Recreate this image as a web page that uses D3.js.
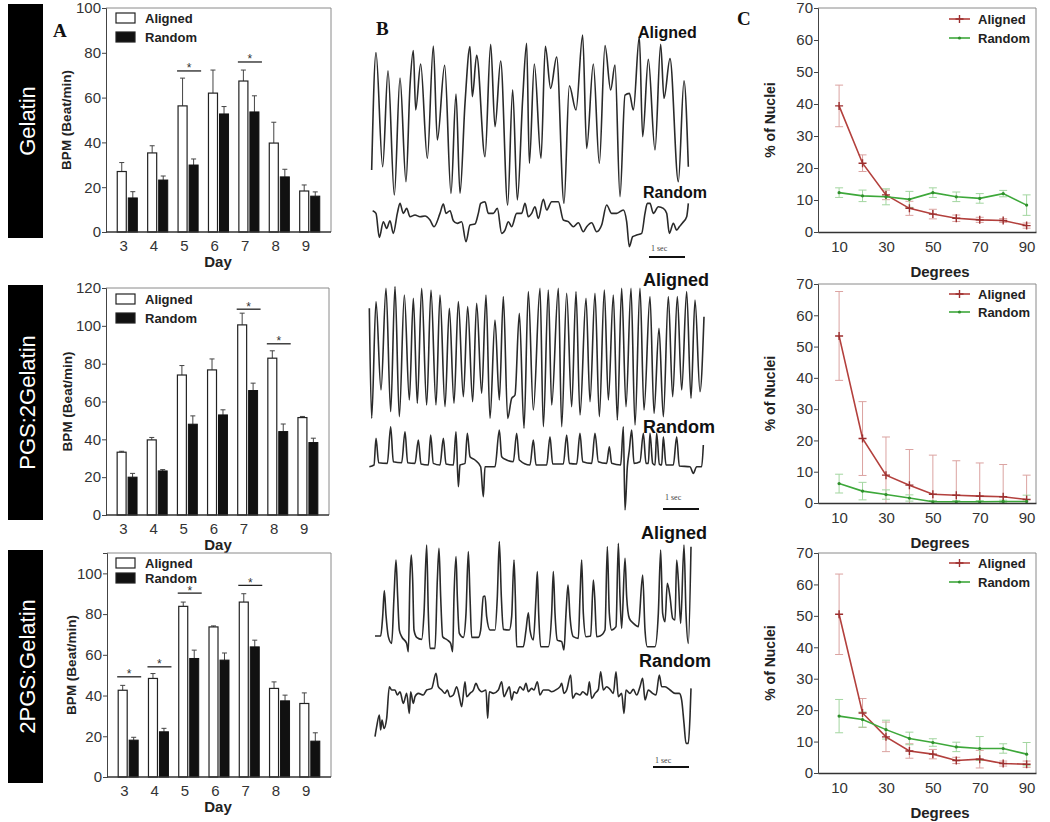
<!DOCTYPE html>
<html><head><meta charset="utf-8">
<script src="https://cdn.jsdelivr.net/npm/d3@7"></script>
<style>body{margin:0;background:#fff}svg{display:block}</style>
</head><body>
<svg id="fig" width="1050" height="822"></svg>
<script>
// ---------- Panel A data (BPM, mean and upper SEM) ----------
const days = [3, 4, 5, 6, 7, 8, 9];
const gelAligned     = [27, 35.3, 56.3, 62, 67.4, 39.7, 18.3];
const gelAlignedErr  = [4, 3.2, 12.4, 10.3, 4.9, 9.3, 2.7];
const gelRandom      = [15.2, 23.2, 29.9, 52.7, 53.6, 24.6, 16];
const gelRandomErr   = [2.8, 1.8, 2.7, 3.3, 7.2, 3.4, 1.9];
const gelSigDays = [5, 7], gelSigLevel = [71.9, 75.9];

const pgs2Aligned    = [33.2, 39.7, 74, 76.7, 100.5, 82.9, 51.5];
const pgs2AlignedErr = [0.5, 1.3, 5, 5.8, 6.2, 3.9, 0.6];
const pgs2Random     = [20, 23.3, 48, 52.9, 65.8, 44.1, 38.3];
const pgs2RandomErr  = [2, 0.7, 4.4, 2.7, 3.9, 4, 2.3];
const pgs2SigDays = [7, 8], pgs2SigLevel = [108.8, 90.5];

const pgsAligned     = [42.6, 48.4, 83.8, 73.7, 85.9, 43.5, 36.1];
const pgsAlignedErr  = [2.4, 2.4, 2.1, 0.5, 4.1, 3.2, 5.2];
const pgsRandom      = [18.1, 22.2, 58.2, 57.4, 63.9, 37.4, 17.6];
const pgsRandomErr   = [1.4, 1.7, 4.1, 3.5, 3.3, 2.8, 4.1];
const pgsSigDays = [3, 4, 5, 7], pgsSigLevel = [49.2, 54.1, 90.3, 94.1];

const sideLabels = ['Gelatin', 'PGS:2Gelatin', '2PGS:Gelatin'];
const seriesNames = ['Aligned', 'Random'];

// ---------- Panel C data (% of nuclei vs degrees) ----------
const degrees = [10, 20, 30, 40, 50, 60, 70, 80, 90];
const cTicks = [10, 30, 50, 70, 90];
const gelNucAligned    = [39.4, 21.5, 11.6, 7.4, 5.6, 4.3, 3.8, 3.6, 2.0];
const gelNucAlignedErr = [6.5, 2.6, 1.5, 2.2, 1.5, 1.0, 0.8, 0.6, 0.8];
const gelNucRandom     = [12.3, 11.3, 11.0, 10.2, 12.3, 11.0, 10.5, 12.0, 8.4];
const gelNucRandomErr  = [1.5, 1.8, 2.5, 2.5, 1.5, 1.5, 1.5, 1.0, 3.2];

const pgs2NucAligned    = [53.4, 20.6, 8.9, 5.7, 2.8, 2.5, 2.2, 2.0, 1.1];
const pgs2NucAlignedErr = [14.2, 11.8, 12.2, 11.4, 12.5, 11.0, 10.6, 10.3, 7.8];
const pgs2NucRandom     = [6.2, 3.8, 2.7, 1.6, 0.4, 0.4, 0.4, 0.5, 0.5];
const pgs2NucRandomErr  = [3.0, 2.8, 1.5, 1.0, 0.4, 0.4, 0.4, 0.4, 2.0];

const pgsNucAligned    = [50.5, 19.1, 11.5, 7.0, 6.0, 4.0, 4.4, 3.0, 2.8];
const pgsNucAlignedErr = [12.8, 4.6, 4.7, 2.3, 1.5, 1.0, 2.8, 0.8, 1.0];
const pgsNucRandom     = [18.1, 17.0, 13.8, 11.0, 9.7, 8.3, 7.8, 7.8, 6.0];
const pgsNucRandomErr  = [5.3, 2.4, 3.0, 2.0, 1.2, 1.5, 3.8, 1.5, 3.7];

// ---------- Panel B data: beating traces, [sample, amplitude a.u.], 108 samples / s ----------
const fs = 108;
const gelTraceAligned = [[35,290],[48,642],[68,300],[84,588],[103,215],[120,566],[138,255],[150,542],[160,648],[167,470],[182,608],[202,325],[220,662],[232,380],[254,604],[273,220],[288,518],[300,220],[315,490],[330,660],[337,510],[350,634],[375,330],[392,667],[405,420],[422,617],[443,185],[458,531],[472,200],[488,503],[500,670],[508,310],[523,608],[543,325],[556,661],[572,535],[590,629],[612,190],[628,543],[648,470],[668,695],[680,355],[700,608],[718,310],[735,663],[752,530],[765,605],[780,210],[795,515],[808,520],[820,470],[838,690],[848,390],[865,622],[885,350],[902,667],[912,505],[930,624],[955,255],[972,558],[985,300]];
const gelTraceRandom = [[38,168],[48,160],[58,88],[70,135],[80,115],[90,138],[100,100],[112,160],[120,190],[130,160],[140,175],[150,150],[165,155],[180,150],[195,152],[210,140],[222,120],[240,160],[250,188],[258,160],[270,168],[280,138],[292,130],[305,135],[318,75],[330,125],[345,128],[355,160],[362,190],[375,195],[385,160],[400,160],[412,175],[425,100],[435,110],[445,135],[455,120],[470,160],[485,160],[495,190],[505,150],[515,160],[525,180],[535,145],[550,202],[560,170],[575,195],[595,195],[610,140],[625,135],[640,120],[655,132],[670,105],[680,120],[695,132],[710,105],[725,125],[740,185],[755,160],[770,160],[790,170],[800,135],[808,60],[818,90],[830,95],[845,100],[855,160],[862,190],[870,190],[880,160],[895,180],[910,175],[920,160],[928,100],[940,130],[950,110],[958,120],[968,132],[980,150],[985,190]];
const pgs2TraceAligned = [[28,685],[35,355],[48,705],[63,440],[78,745],[92,375],[105,750],[118,360],[133,725],[148,410],[160,715],[172,400],[185,745],[200,395],[213,740],[228,395],[240,725],[255,390],[268,685],[282,400],[295,705],[310,420],[323,690],[338,405],[350,700],[365,430],[378,725],[390,355],[405,650],[418,410],[430,720],[443,355],[455,415],[465,425],[478,670],[492,325],[505,735],[520,380],[540,745],[550,330],[565,740],[575,395],[595,745],[605,330],[620,730],[635,390],[648,735],[660,365],[678,715],[690,405],[705,730],[718,360],[733,740],[745,410],[760,725],[772,350],[785,745],[798,390],[813,745],[825,335],[840,745],[852,380],[870,720],[882,370],[897,625],[910,360],[925,720],[938,420],[952,720],[965,440],[980,735],[993,415],[1005,710],[1020,435],[1032,660]];
const pgs2TraceRandom = [[28,210],[42,215],[48,295],[56,222],[82,220],[92,330],[100,225],[125,222],[135,315],[143,222],[165,220],[175,290],[183,218],[205,215],[212,305],[220,220],[240,215],[250,295],[258,218],[280,215],[288,315],[295,150],[300,215],[315,220],[322,310],[330,240],[345,230],[362,210],[370,120],[375,210],[405,210],[418,320],[425,240],[440,230],[460,225],[470,310],[478,230],[510,215],[520,290],[528,215],[560,215],[570,300],[578,218],[610,218],[620,305],[628,220],[650,218],[660,310],[668,225],[695,220],[705,310],[715,225],[740,220],[748,270],[755,220],[782,215],[790,330],[795,80],[802,210],[808,260],[815,320],[822,220],[840,225],[850,310],[858,220],[865,220],[870,310],[878,220],[885,215],[890,310],[898,218],[905,215],[910,300],[918,215],[940,215],[950,300],[958,212],[990,210],[1000,190],[1010,210],[1025,210],[1030,275]];
const pgsTraceAligned = [[45,482],[62,482],[68,540],[73,618],[78,545],[85,480],[95,460],[102,600],[108,710],[113,600],[118,500],[125,480],[140,460],[145,435],[150,660],[154,725],[158,650],[162,500],[170,478],[185,472],[192,550],[200,755],[205,550],[210,445],[225,445],[232,650],[237,745],[242,600],[248,480],[262,470],[272,460],[278,435],[282,600],[288,720],[292,600],[298,490],[310,478],[318,550],[325,735],[330,600],[335,478],[355,478],[362,500],[370,600],[375,602],[380,540],[390,500],[405,500],[412,600],[418,765],[424,600],[430,502],[448,500],[455,540],[462,710],[466,600],[470,450],[490,450],[498,500],[505,552],[510,500],[520,470],[528,600],[532,675],[536,550],[542,450],[565,450],[575,550],[580,675],[585,550],[592,470],[605,465],[612,440],[618,550],[624,635],[630,540],[640,480],[655,475],[660,600],[665,710],[670,550],[678,480],[692,482],[700,650],[704,600],[710,480],[720,482],[735,500],[742,750],[748,550],[755,500],[768,510],[775,760],[780,600],[785,505],[795,715],[800,600],[808,535],[820,520],[835,510],[848,665],[855,500],[862,450],[885,450],[895,550],[902,740],[908,550],[915,525],[922,640],[930,600],[938,535],[945,530],[950,710],[955,650],[962,520],[972,755],[978,550],[985,460],[993,750]];
const pgsTraceRandom = [[45,180],[50,210],[58,245],[62,200],[66,230],[72,205],[80,235],[88,330],[95,320],[105,320],[112,305],[120,315],[130,280],[140,310],[148,250],[152,315],[160,280],[165,300],[175,310],[190,305],[200,320],[215,325],[228,370],[235,330],[245,320],[255,310],[262,320],[270,300],[280,305],[290,330],[298,300],[305,270],[315,345],[320,300],[330,310],[340,320],[348,340],[355,325],[365,315],[378,320],[383,235],[388,315],[400,310],[415,320],[425,345],[432,300],[440,315],[448,330],[455,290],[462,315],[470,310],[480,330],[490,320],[498,340],[505,315],[515,325],[522,320],[532,345],[540,305],[550,320],[565,320],[575,315],[590,322],[600,330],[605,340],[612,310],[620,320],[632,365],[638,295],[648,310],[660,305],[668,315],[682,305],[688,345],[695,295],[705,310],[715,322],[722,375],[730,320],[740,330],[750,322],[760,310],[768,375],[775,300],[785,310],[792,250],[798,320],[810,310],[820,322],[830,305],[840,330],[848,355],[855,290],[865,320],[878,310],[888,305],[898,365],[905,330],[915,330],[930,320],[945,310],[958,310],[965,290],[972,220],[978,160],[985,160],[990,240],[993,325]];

// ---------- drawing ----------
const svg = d3.select('#fig');
const SANS = '"Liberation Sans", Arial, sans-serif';
const SERIF = '"Liberation Serif", "Times New Roman", serif';
const RED = '#b3403d', RED_E = '#dba3a1', GREEN = '#3da83a', GREEN_E = '#a3d6a0';

// Side labels
const sideBoxes = [[4, 238], [285, 520], [550, 783]];
sideBoxes.forEach((b, i) => {
  svg.append('rect').attr('x', 8).attr('y', b[0]).attr('width', 35).attr('height', b[1] - b[0]).attr('fill', '#000');
  svg.append('text').attr('transform', `translate(27,${(b[0] + b[1]) / 2}) rotate(-90)`)
    .attr('text-anchor', 'middle').attr('dominant-baseline', 'central')
    .attr('fill', '#fff').style('font', `22px ${SANS}`).text(sideLabels[i]);
});

// Panel letters
[['A', 53, 37], ['B', 376, 35], ['C', 737, 25]].forEach(([t, x, y]) =>
  svg.append('text').attr('x', x).attr('y', y).style('font', `bold 19px ${SERIF}`).attr('fill', '#111').text(t));

// ---------- Panel A ----------
const barPanels = [
  {top: 8, bottom: 232, left: 106, right: 331, ymax: 100, al: gelAligned, alE: gelAlignedErr, ra: gelRandom, raE: gelRandomErr, sd: gelSigDays, sl: gelSigLevel, leg: [5, 24], ylx: 66},
  {top: 288, bottom: 515, left: 106, right: 329, ymax: 120, al: pgs2Aligned, alE: pgs2AlignedErr, ra: pgs2Random, raE: pgs2RandomErr, sd: pgs2SigDays, sl: pgs2SigLevel, leg: [6, 25], ylx: 67},
  {top: 553, bottom: 777, left: 107, right: 331, ymax: 110, al: pgsAligned, alE: pgsAlignedErr, ra: pgsRandom, raE: pgsRandomErr, sd: pgsSigDays, sl: pgsSigLevel, leg: [5, 20], ylx: 71}
];

barPanels.forEach(p => {
  const g = svg.append('g');
  const y = d3.scaleLinear().domain([0, p.ymax]).range([p.bottom, p.top]);
  const x = d3.scaleBand().domain(days).range([p.left, p.right]).paddingInner(0.34).paddingOuter(0.37);
  const bw = x.bandwidth() * 0.45;
  const rx = d => x(d) + x.bandwidth() * 0.55;

  g.append('path').attr('d', `M${p.left},${p.top}H${p.right}V${p.bottom}`).attr('fill', 'none').attr('stroke', '#8a8a8a').attr('stroke-width', 1);

  // error bars (upper only)
  const errs = [];
  days.forEach((d, i) => {
    errs.push({cx: x(d) + bw / 2, v: p.al[i], e: p.alE[i]});
    errs.push({cx: rx(d) + bw / 2, v: p.ra[i], e: p.raE[i]});
  });
  g.selectAll('path.err').data(errs).join('path')
    .attr('d', e => `M${e.cx},${y(e.v)}V${y(e.v + e.e)}M${e.cx - 2.5},${y(e.v + e.e)}H${e.cx + 2.5}`)
    .attr('stroke', '#444').attr('stroke-width', 1).attr('fill', 'none');

  g.selectAll('rect.al').data(days).join('rect')
    .attr('x', d => x(d)).attr('y', (d, i) => y(p.al[i])).attr('width', bw).attr('height', (d, i) => y(0) - y(p.al[i]))
    .attr('fill', '#fff').attr('stroke', '#222').attr('stroke-width', 1.2);
  g.selectAll('rect.ra').data(days).join('rect')
    .attr('x', d => rx(d)).attr('y', (d, i) => y(p.ra[i])).attr('width', bw).attr('height', (d, i) => y(0) - y(p.ra[i]))
    .attr('fill', '#111').attr('stroke', '#111').attr('stroke-width', 1);

  // significance
  p.sd.forEach((d, i) => {
    const x0 = x(d) - 1, x1 = rx(d) + bw + 3, yy = y(p.sl[i]);
    g.append('line').attr('x1', x0).attr('x2', x1).attr('y1', yy).attr('y2', yy).attr('stroke', '#222').attr('stroke-width', 1.3);
    g.append('text').attr('x', (x0 + x1) / 2).attr('y', yy + 1.5).attr('text-anchor', 'middle').style('font', `12px ${SANS}`).attr('fill', '#333').text('*');
  });

  // axes
  const ax = g.append('g').attr('transform', `translate(${p.left},0)`)
    .call(d3.axisLeft(y).tickValues(d3.range(0, p.ymax + 1, 20)).tickSize(4).tickPadding(1));
  ax.select('.domain').attr('stroke', '#444');
  ax.selectAll('.tick line').attr('stroke', '#444');
  ax.selectAll('text').style('font', `15px ${SANS}`).attr('fill', '#333');
  g.append('line').attr('x1', p.left).attr('x2', p.right).attr('y1', y(0)).attr('y2', y(0)).attr('stroke', '#333').attr('stroke-width', 1.3);
  g.selectAll('text.xt').data(days).join('text')
    .attr('x', d => x(d) + bw * 0.7).attr('y', p.bottom + 13).attr('text-anchor', 'middle').attr('dominant-baseline', 'central')
    .style('font', `15px ${SANS}`).attr('fill', '#333').text(d => d);
  g.append('text').attr('x', 218).attr('y', p.bottom + 29).attr('text-anchor', 'middle').attr('dominant-baseline', 'central')
    .style('font', `bold 15px ${SANS}`).attr('fill', '#222').text('Day');
  g.append('text').attr('transform', `translate(${p.ylx},${(p.top + p.bottom) / 2}) rotate(-90)`)
    .attr('text-anchor', 'middle').attr('dominant-baseline', 'central')
    .style('font', `bold 13.5px ${SANS}`).attr('fill', '#222').text('BPM (Beat/min)');

  // legend
  seriesNames.forEach((s, i) => {
    const ly = p.top + p.leg[i];
    g.append('rect').attr('x', 116).attr('y', ly).attr('width', 19).attr('height', 10)
      .attr('fill', i ? '#111' : '#fff').attr('stroke', '#222').attr('stroke-width', 1.2);
    g.append('text').attr('x', 145).attr('y', ly + 5).attr('dominant-baseline', 'central')
      .style('font', `bold 13px ${SANS}`).attr('fill', '#222').text(s);
  });
});

// ---------- Panel B ----------
const traceRows = [
  {off: 0, al: gelTraceAligned, ra: gelTraceRandom, fsz: 16, alLab: [638, 32], raLab: [643, 192], bar: [649, 257], barTxt: [651, 248]},
  {off: 270, al: pgs2TraceAligned, ra: pgs2TraceRandom, fsz: 18, alLab: [643, 280], raLab: [643, 427], bar: [663, 509], barTxt: [665, 497]},
  {off: 530, al: pgsTraceAligned, ra: pgsTraceRandom, fsz: 18, alLab: [641, 533], raLab: [639, 661], bar: [653, 767], barTxt: [655, 760]}
];
traceRows.forEach(r => {
  const g = svg.append('g');
  const x = d3.scaleLinear().domain([0, fs]).range([360, 396]);
  const y = d3.scaleLinear().domain([0, 800]).range([r.off + 266.7, r.off]);
  const line = d3.line().x(d => x(d[0])).y(d => y(d[1])).curve(d3.curveMonotoneX);
  [r.al, r.ra].forEach(tr => g.append('path').attr('d', line(tr)).attr('fill', 'none')
    .attr('stroke', '#2a2a2a').attr('stroke-width', 1.6).attr('stroke-linejoin', 'round'));
  g.append('text').attr('x', r.alLab[0]).attr('y', r.alLab[1]).attr('dominant-baseline', 'central')
    .style('font', `bold ${r.fsz}px ${SANS}`).attr('fill', '#111').text('Aligned');
  g.append('text').attr('x', r.raLab[0]).attr('y', r.raLab[1]).attr('dominant-baseline', 'central')
    .style('font', `bold ${r.fsz}px ${SANS}`).attr('fill', '#111').text('Random');
  const bx0 = r.bar[0], bx1 = r.bar[0] + (x(fs) - x(0));
  g.append('line').attr('x1', bx0).attr('x2', bx1).attr('y1', r.bar[1]).attr('y2', r.bar[1]).attr('stroke', '#111').attr('stroke-width', 2);
  g.append('text').attr('x', r.barTxt[0]).attr('y', r.barTxt[1]).attr('dominant-baseline', 'central')
    .style('font', `8px ${SERIF}`).attr('fill', '#444').text('1 sec');
});

// ---------- Panel C ----------
const cPanels = [
  {top: 8, bottom: 232, al: gelNucAligned, alE: gelNucAlignedErr, ra: gelNucRandom, raE: gelNucRandomErr, leg: [11, 30]},
  {top: 284, bottom: 503, al: pgs2NucAligned, alE: pgs2NucAlignedErr, ra: pgs2NucRandom, raE: pgs2NucRandomErr, leg: [10, 28]},
  {top: 553, bottom: 773, al: pgsNucAligned, alE: pgsNucAlignedErr, ra: pgsNucRandom, raE: pgsNucRandomErr, leg: [10, 29]}
];
cPanels.forEach(p => {
  const g = svg.append('g');
  const left = 818, right = 1036;
  const x = d3.scaleLinear().domain([1, 94]).range([left, right]);
  const y = d3.scaleLinear().domain([0, 70]).range([p.bottom, p.top]);
  g.append('path').attr('d', `M${left},${p.top}H${right}V${p.bottom}`).attr('fill', 'none').attr('stroke', '#8a8a8a');

  const series = [
    {v: p.al, e: p.alE, c: RED, ce: RED_E, mark: 'plus'},
    {v: p.ra, e: p.raE, c: GREEN, ce: GREEN_E, mark: 'dot'}
  ];
  series.forEach(s => {
    g.selectAll(null).data(degrees).join('path')
      .attr('d', (d, i) => {
        const lo = y(Math.max(0, s.v[i] - s.e[i])), hi = y(s.v[i] + s.e[i]), cx = x(d);
        return `M${cx},${lo}V${hi}M${cx - 4},${hi}H${cx + 4}` + (s.v[i] - s.e[i] > 0 ? `M${cx - 4},${lo}H${cx + 4}` : '');
      })
      .attr('stroke', s.ce).attr('stroke-width', 1).attr('fill', 'none');
  });
  series.forEach(s => {
    g.append('path').attr('d', d3.line().x((d, i) => x(d)).y((d, i) => y(s.v[i]))(degrees))
      .attr('fill', 'none').attr('stroke', s.c).attr('stroke-width', 1.6);
    if (s.mark === 'plus') {
      g.selectAll(null).data(degrees).join('path')
        .attr('d', (d, i) => `M${x(d) - 4},${y(s.v[i])}H${x(d) + 4}M${x(d)},${y(s.v[i]) - 4}V${y(s.v[i]) + 4}`)
        .attr('stroke', '#9c2f2f').attr('stroke-width', 1.4);
    } else {
      g.selectAll(null).data(degrees).join('circle')
        .attr('cx', d => x(d)).attr('cy', (d, i) => y(s.v[i])).attr('r', 1.6).attr('fill', '#2f8f2c');
    }
  });

  const ay = g.append('g').attr('transform', `translate(${left},0)`)
    .call(d3.axisLeft(y).tickValues(d3.range(0, 71, 10)).tickSize(4).tickPadding(1));
  ay.select('.domain').attr('stroke', '#444');
  ay.selectAll('.tick line').attr('stroke', '#444');
  ay.selectAll('text').style('font', `15px ${SANS}`).attr('fill', '#333');
  const axx = g.append('g').attr('transform', `translate(0,${p.bottom})`)
    .call(d3.axisBottom(x).tickValues(cTicks).tickSize(0).tickPadding(9));
  axx.select('.domain').attr('stroke', '#333').attr('stroke-width', 1.3);
  axx.selectAll('text').style('font', `15px ${SANS}`).attr('fill', '#333');
  g.append('text').attr('x', 940).attr('y', p.bottom + 39).attr('text-anchor', 'middle').attr('dominant-baseline', 'central')
    .style('font', `bold 15px ${SANS}`).attr('fill', '#222').text('Degrees');
  g.append('text').attr('transform', `translate(770,${(p.top + p.bottom) / 2}) rotate(-90)`)
    .attr('text-anchor', 'middle').attr('dominant-baseline', 'central')
    .style('font', `bold 14px ${SANS}`).attr('fill', '#222').text('% of Nuclei');

  series.forEach((s, i) => {
    const ly = p.top + p.leg[i];
    g.append('line').attr('x1', 949).attr('x2', 970).attr('y1', ly).attr('y2', ly).attr('stroke', s.c).attr('stroke-width', 1.6);
    if (s.mark === 'plus') g.append('path').attr('d', `M955.5,${ly}H963.5M959.5,${ly - 4}V${ly + 4}`).attr('stroke', '#9c2f2f').attr('stroke-width', 1.4);
    else g.append('circle').attr('cx', 959.5).attr('cy', ly).attr('r', 1.6).attr('fill', '#2f8f2c');
    g.append('text').attr('x', 978).attr('y', ly).attr('dominant-baseline', 'central')
      .style('font', `bold 13px ${SANS}`).attr('fill', '#222').text(seriesNames[i]);
  });
});
</script>
</body></html>
